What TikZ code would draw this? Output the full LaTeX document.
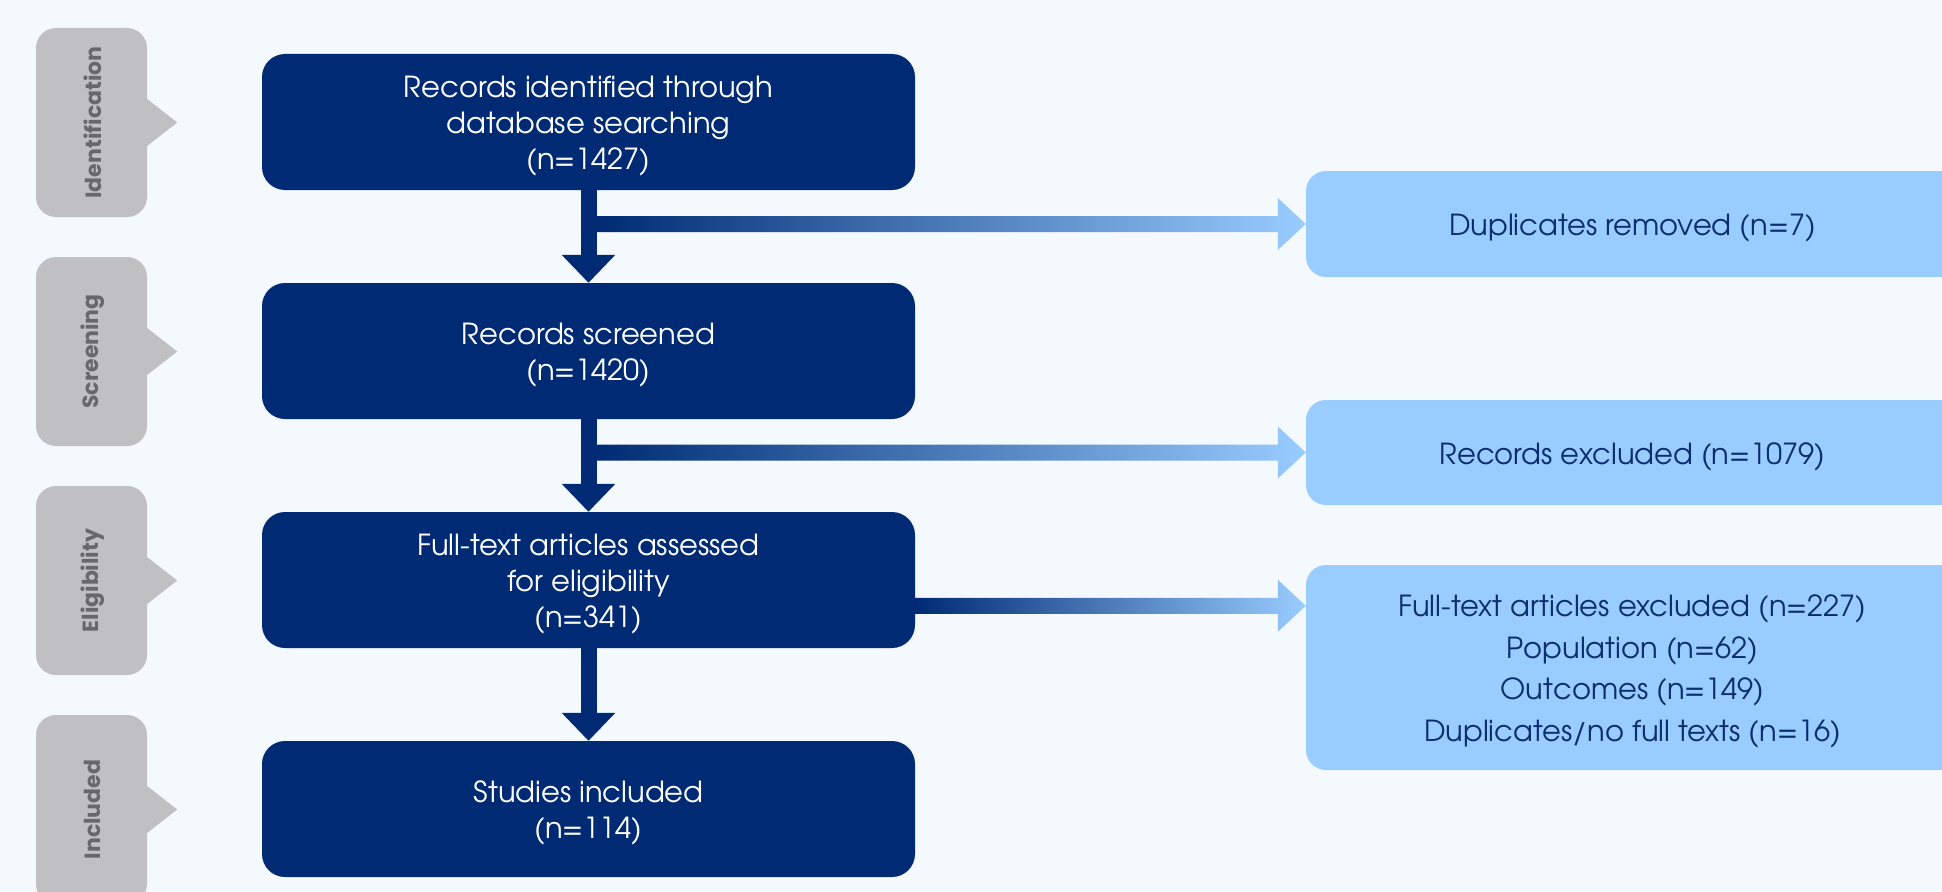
\documentclass[tikz,border=0pt]{standalone}
\usepackage{fontspec}
\setmainfont{texgyreadventor-regular.otf}
\newfontfamily\stagefont{Poppins}
\usetikzlibrary{calc,arrows.meta}
\definecolor{bgc}{HTML}{F4F9FD}
\definecolor{dblue}{HTML}{002B74}
\definecolor{lblue}{HTML}{99CCFF}
\definecolor{tblue}{HTML}{0C2D6E}
\definecolor{grayc}{HTML}{C0C0C2}
\definecolor{grayt}{HTML}{68686A}
\begin{document}
\begin{tikzpicture}[x=1pt,y=-1pt,
  stage/.style={fill=grayc, rounded corners=20pt, minimum width=111pt, minimum height=189pt, inner sep=0pt},
  stagetext/.style={rotate=90, text=grayt, font=\stagefont\bfseries\fontsize{22}{22}\selectfont, inner sep=0pt},
  darkbox/.style={fill=dblue, rounded corners=23pt, minimum width=653pt, minimum height=136pt, inner sep=0pt},
  darktext/.style={text=white, align=center, inner sep=0pt, font=\fontsize{29}{36}\selectfont},
  lightbox/.style={fill=lblue, rounded corners=20pt, minimum width=653pt, inner sep=0pt},
  lighttext/.style={text=tblue, align=center, inner sep=0pt, font=\fontsize{29}{41.7}\selectfont},
  varrow/.style={draw=dblue, line width=16pt, -{Triangle[length=28pt,width=52pt]}},
  hshade/.style={left color=dblue, right color=lblue, draw=none}
]
\useasboundingbox (0,0) rectangle (1942,891);
\fill[bgc] (0,0) rectangle (1942,891);
\clip (0,0) rectangle (1942,891);

% stage labels
\foreach \n/\y/\t in {s1/122.5/Identification, s2/351.5/Screening, s3/580.5/Eligibility, s4/809.5/Included}{
  \node[stage] (\n) at (91.5,\y) {};
  \fill[grayc] ($(\n.east)+(-2,-25)$) -- ($(\n.east)+(30,0)$) -- ($(\n.east)+(-2,25)$) -- cycle;
  \node[stagetext] (\n t) at ($(\n)+(1,0)$) {\t};
}

% main boxes
\node[darkbox] (b1) at (588.5,122) {};
\node[darkbox] (b2) at (588.5,351) {};
\node[darkbox] (b3) at (588.5,580) {};
\node[darkbox] (b4) at (588.5,809) {};
\node[darktext] (b1t) at ($(b1)+(0,4)$) {Records identified through\\database searching\\(n=1427)};
\node[darktext] (b2t) at ($(b2)+(0,4)$) {Records screened\\(n=1420)};
\node[darktext] (b3t) at ($(b3)+(0,4)$) {Full-text articles assessed\\for eligibility\\(n=341)};
\node[darktext] (b4t) at ($(b4)+(0,4)$) {Studies included\\(n=114)};

% exclusion boxes
\node[lightbox, minimum height=106pt] (e1) at (1632.5,224) {};
\node[lightbox, minimum height=105pt] (e2) at (1632.5,452.5) {};
\node[lightbox, minimum height=205pt] (e3) at (1632.5,667.5) {};
\node[lighttext] (e1t) at ($(e1)+(0,4)$) {Duplicates removed (n=7)};
\node[lighttext] (e2t) at ($(e2)+(0,4)$) {Records excluded (n=1079)};
\node[lighttext] (e3t) at ($(e3)+(0,4)$) {Full-text articles excluded (n=227)\\Population (n=62)\\Outcomes (n=149)\\Duplicates/no full texts (n=16)};
\coordinate (e3in) at ($(e3.north west)+(0,41)$);

% horizontal gradient arrows
\shade[hshade] ($(b1.south |- e1.west)+(8,-8)$) -- ($(e1.west)+(-28,-8)$) -- ($(e1.west)+(-28,-26)$) -- (e1.west)
  -- ($(e1.west)+(-28,26)$) -- ($(e1.west)+(-28,8)$) -- ($(b1.south |- e1.west)+(8,8)$) -- cycle;
\shade[hshade] ($(b2.south |- e2.west)+(8,-8)$) -- ($(e2.west)+(-28,-8)$) -- ($(e2.west)+(-28,-26)$) -- (e2.west)
  -- ($(e2.west)+(-28,26)$) -- ($(e2.west)+(-28,8)$) -- ($(b2.south |- e2.west)+(8,8)$) -- cycle;
\shade[hshade] ($(b3.east |- e3in)+(-1,-8)$) -- ($(e3in)+(-28,-8)$) -- ($(e3in)+(-28,-26)$) -- (e3in)
  -- ($(e3in)+(-28,26)$) -- ($(e3in)+(-28,8)$) -- ($(b3.east |- e3in)+(-1,8)$) -- cycle;

% vertical arrows
\draw[varrow] (b1.south) -- (b2.north);
\draw[varrow] (b2.south) -- (b3.north);
\draw[varrow] (b3.south) -- (b4.north);
\end{tikzpicture}
\end{document}
